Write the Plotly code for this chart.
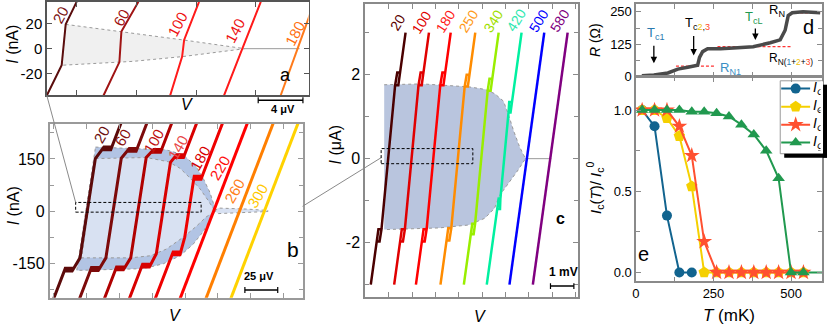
import plotly.graph_objects as go

W, H = 830, 334
FONT = "Liberation Sans"

# ---------------- Panel a : V (uV) vs I (nA)
a_temps = [20, 60, 100, 140, 180]
a_line_colors = ["#5a0d0d", "#a01414", "#ff1a1a", "#ff1a1a", "#ff7a1a"]
a_label_colors = ["#7a1010", "#a01010", "#ee1111", "#ee1111", "#ff7010"]
a_v_bottom = [0.0, 5.07, 11.03, 15.84, 20.91]
a_v_lo = [1.33, 6.49, 12.10, 17.40, 22.42]
a_v_hi = [1.69, 6.67, 12.28, 17.50, 22.42]
a_v_top = [2.67, 8.19, 13.61, 19.13, 23.93]
a_ic_dn = [13.1, 10.6, 6.2, 0.5, 0.0]
a_ic_up = [19.2, 13.5, 6.9, 0.4, 0.0]
a_imax = 37
a_shade_up_v = [1.69, 6.67, 12.19, 17.7]
a_shade_up_i = [19.2, 13.5, 6.9, 0.0]
a_shade_dn_v = [1.33, 7.74, 12.19, 17.7]
a_shade_dn_i = [-13.1, -10.0, -6.2, 0.0]
a_tail_v = [17.7, 22.6]
a_tail_i = [0.0, 0.0]

# ---------------- Panel b : V (uV) vs I (nA)
b_temps = [20, 60, 100, 140, 180, 220, 260, 300]
b_line_colors = ["#5c0a0a", "#7d0a0a", "#b00000", "#d80000", "#ee0000", "#ff0000", "#ff7f00", "#ffd200"]
b_label_colors = ["#6b0f0f", "#8b1010", "#c01010", "#e84848", "#d80000", "#ff1010", "#ff8020", "#ffc800"]
b_vc = [28.5, 48.2, 67.1, 86.1, 105.8, 124.7, 144.4, 163.3]
b_io_up = [184, 180, 177, 162, 100, 0, 0, 0]
b_ii_up = [151, 152, 154, 140, 85, 0, 0, 0]
b_io_dn = [172, 170, 168, 160, 125, 0, 0, 0]
b_ii_dn = [134, 134, 134, 122, 75, 0, 0, 0]
b_R, b_Rs, b_imax = 0.1017, 0.041, 260
b_outer_up_v = [34.8, 88.6, 101.5, 111.4, 116.7, 122.0, 125.0, 125.8]
b_outer_up_i = [184, 176, 162, 128, 95, 53, 17, 0]
b_outer_dn_v = [20.5, 71.2, 86.4, 99.2, 109.1, 116.7, 122.0, 125.8]
b_outer_dn_i = [-170, -165, -151, -128, -95, -59, -25, 0]
b_inner_up_v = [34.8, 73.5, 90.2, 99.2, 106.8, 114.4, 120.5, 125.8]
b_inner_up_i = [151, 154, 142, 123, 95, 64, 31, 0]
b_inner_dn_v = [24.2, 61.4, 76.5, 88.6, 101.5, 111.4, 118.9, 125.8]
b_inner_dn_i = [-134, -134, -128, -109, -75, -44, -17, 0]
b_tail_up_v = [125.8, 128, 150, 166]
b_tail_up_i = [0, 9, 6, 2]
b_tail_dn_v = [166, 150, 128, 125.8]
b_tail_dn_i = [-1, -4, -7, 0]

# ---------------- Panel c : V (mV) vs I (uA)
c_temps = [20, 100, 180, 250, 340, 420, 500, 580]
c_line_colors = ["#4a0000", "#e00000", "#ff0000", "#ff8c00", "#99ee00", "#00f0a0", "#0000ff", "#800080"]
c_label_colors = ["#5a0000", "#e00000", "#ff1a1a", "#ff9a1a", "#a0e000", "#30e8b0", "#0000ff", "#800080"]
c_vc = [0.98, 1.98, 2.91, 3.96, 4.96, 5.94, 6.91, 7.91]
c_io_up = [2.05, 2.05, 2.05, 2.0, 1.9, 1.35, 0, 0]
c_ii_up = [1.75, 1.75, 1.75, 1.72, 1.62, 1.1, 0, 0]
c_io_dn = [1.97, 1.97, 1.97, 1.95, 1.8, 1.2, 0, 0]
c_ii_dn = [1.68, 1.68, 1.68, 1.66, 1.55, 0.95, 0, 0]
c_R, c_Rs, c_imax = 0.248, 0.17, 3.0
c_up_v = [0.81, 2.43, 4.43, 5.11, 5.53, 5.91, 6.13, 6.34, 6.60, 6.85]
c_up_i = [1.76, 1.78, 1.71, 1.65, 1.55, 1.37, 1.04, 0.67, 0.28, 0.0]
c_dn_v = [0.81, 3.15, 4.43, 5.11, 5.53, 5.74, 6.13, 6.55, 6.85]
c_dn_i = [-1.69, -1.65, -1.58, -1.42, -1.18, -0.88, -0.58, -0.26, 0.0]
c_tail_v = [6.85, 7.96]
c_tail_i = [0.0, 0.0]

# ---------------- Panel d : R (Ohm) vs T (mK)
d_T = [19, 58, 103, 135, 167, 199, 205, 215, 231, 273, 327, 378, 433, 465, 481, 491, 504, 539, 594]
d_R = [4, 7, 15, 30, 37, 45, 75, 97, 108, 108, 112, 116, 131, 142, 179, 235, 246, 250, 246]
d_rn1_T, d_rn1_R = [129, 257], [41, 41]
d_rn123_T, d_rn123_R = [263, 504], [116, 116]
d_rn_T, d_rn_R = [497, 594], [246, 246]

# ---------------- Panel e : Ic(T)/Ic0 vs T (mK)
e_T1 = [20, 60, 100, 140, 180]
e_I1 = [1.0, 0.9, 0.35, 0.0, 0.0]
e_T = [20, 60, 100, 140, 180, 220, 260, 300, 340, 380, 420, 460, 500, 540]
e_I2 = [1.0, 1.0, 0.95, 0.84, 0.53, 0.0, 0, 0, 0, 0, 0, 0, 0, 0]
e_I3 = [1.0, 1.0, 1.0, 0.9, 0.72, 0.19, 0, 0, 0, 0, 0, 0, 0, 0]
e_IL = [1.0, 1.0, 1.0, 1.0, 0.99, 0.99, 0.98, 0.96, 0.91, 0.85, 0.75, 0.58, 0.0, 0.0]
e_TL_tail = [540, 600]
e_IL_tail = [0.0, 0.0]
e_names = ["C1", "C2", "C3", "CL"]
e_colors = ["#12648f", "#f5d000", "#ff5030", "#21994f"]
e_symbols = ["circle", "pentagon", "star", "triangle-up"]


def iv_path(vc, R, Rs, imax, io_up, ii_up, io_dn, ii_dn, lw, lh):
    xn = lambda i: vc + R * i
    xs = lambda i: vc + Rs * i
    if io_up <= 0:
        return [xn(-imax), xn(imax)], [-imax, imax]
    pts = [(xn(-imax), -imax)]
    h = min(lh, io_dn - ii_dn)
    B = (xn(-io_dn), -io_dn)
    A = (xn(-io_dn) + lw, -io_dn)
    K = (xs(-ii_dn), -ii_dn)
    t = h / (io_dn - ii_dn)
    D = (A[0] + t * (K[0] - A[0]), -(io_dn - h))
    C = (xn(-(io_dn - h)), -(io_dn - h))
    pts += [B, A, D, C, B, A, D, K]
    h = min(lh, io_up - ii_up)
    K = (xs(ii_up), ii_up)
    A = (xn(io_up) - lw, io_up)
    B = (xn(io_up), io_up)
    t = h / (io_up - ii_up)
    D = (K[0] + (1 - t) * (A[0] - K[0]), io_up - h)
    C = (xn(io_up - h), io_up - h)
    pts += [K, D, A, B, C, D, A, B, (xn(imax), imax)]
    return [p[0] for p in pts], [p[1] for p in pts]


fig = go.Figure()
BND = dict(color="#9a9a9a", width=1, dash="dot")


def add(x, y, xa, ya, **kw):
    fig.add_trace(go.Scatter(x=x, y=y, xaxis=xa, yaxis=ya, showlegend=False,
                             hoverinfo="skip", **kw))


# ---- panel a
add(a_shade_up_v + a_shade_dn_v[::-1] + [a_shade_up_v[0]],
    a_shade_up_i + a_shade_dn_i[::-1] + [a_shade_up_i[0]], "x", "y",
    mode="lines", fill="toself", fillcolor="#f0f0f0", line=BND)
add(a_tail_v, a_tail_i, "x", "y", mode="lines", line=dict(color="#9a9a9a", width=1))
for k in range(len(a_temps)):
    add([a_v_bottom[k], a_v_lo[k], a_v_hi[k], a_v_top[k]],
        [-a_imax, -a_ic_dn[k], a_ic_up[k], a_imax], "x", "y",
        mode="lines", line=dict(color=a_line_colors[k], width=2))

# ---- panel b
add(b_outer_up_v + b_outer_dn_v[::-1] + [b_outer_up_v[0]],
    b_outer_up_i + b_outer_dn_i[::-1] + [b_outer_up_i[0]], "x2", "y2",
    mode="lines", fill="toself", fillcolor="#b2c4e4", line=BND)
add(b_inner_up_v + b_inner_dn_v[::-1] + [b_inner_up_v[0]],
    b_inner_up_i + b_inner_dn_i[::-1] + [b_inner_up_i[0]], "x2", "y2",
    mode="lines", fill="toself", fillcolor="#d8e1f2", line=BND)
add(b_tail_up_v + b_tail_dn_v, b_tail_up_i + b_tail_dn_i, "x2", "y2",
    mode="lines", fill="toself", fillcolor="#d8e1f2", line=BND)
for k in range(len(b_temps)):
    v, i = iv_path(b_vc[k], b_R, b_Rs, b_imax, b_io_up[k], b_ii_up[k],
                   b_io_dn[k], b_ii_dn[k], 6.0, 8.0)
    add(v, i, "x2", "y2", mode="lines", line=dict(color=b_line_colors[k], width=3))

# ---- panel c
add(c_up_v + c_dn_v[::-1], c_up_i + c_dn_i[::-1], "x3", "y3",
    mode="lines", fill="toself", fillcolor="#b9c5de", line=BND)
add(c_tail_v, c_tail_i, "x3", "y3", mode="lines", line=dict(color="#9a9a9a", width=1))
for k in range(len(c_temps)):
    v, i = iv_path(c_vc[k], c_R, c_Rs, c_imax, c_io_up[k], c_ii_up[k],
                   c_io_dn[k], c_ii_dn[k], 0.12, 0.3)
    add(v, i, "x3", "y3", mode="lines", line=dict(color=c_line_colors[k], width=2.5))

# ---- panel d
for tt, rr in [(d_rn1_T, d_rn1_R), (d_rn123_T, d_rn123_R), (d_rn_T, d_rn_R)]:
    add(tt, rr, "x4", "y4", mode="lines", line=dict(color="#ff3333", width=1.3, dash="3px,2px"))
add(d_T, d_R, "x4", "y4", mode="lines", line=dict(color="#4a4a4a", width=3.5))

# ---- panel e
e_series = [(e_T1, e_I1), (e_T, e_I2), (e_T, e_I3), (e_T, e_IL)]
e_sizes = [10, 12, 12, 11]
add(e_TL_tail, e_IL_tail, "x5", "y5", mode="lines", line=dict(color=e_colors[3], width=2))
for k, (tt, ii) in enumerate(e_series):
    add(tt, ii, "x5", "y5", mode="lines+markers",
        line=dict(color=e_colors[k], width=2),
        marker=dict(symbol=e_symbols[k], size=e_sizes[k], color=e_colors[k]))

# ---- legend of panel e, drawn inside the e axes (legend box geometry in axis units)
LEG_T0, LEG_T1, LEG_TM, LEG_TX = 468.4, 561.5, 515.0, 571.0
LEG_BOX_T = [465.2, 610, 610, 465.2, 465.2]
LEG_BOX_I = [1.180, 1.180, 0.731, 0.731, 1.180]
LEG_ROWS = [1.132, 1.021, 0.910, 0.800]
add(LEG_BOX_T, LEG_BOX_I, "x5", "y5", mode="lines", fill="toself", fillcolor="white",
    line=dict(width=1, color="#999999"))
for k in range(4):
    add([LEG_T0, LEG_T1], [LEG_ROWS[k]] * 2, "x5", "y5", mode="lines",
        line=dict(color=e_colors[k], width=2))
    add([LEG_TM], [LEG_ROWS[k]], "x5", "y5", mode="markers",
        marker=dict(symbol=e_symbols[k], size=e_sizes[k], color=e_colors[k]))
    add([LEG_TX], [LEG_ROWS[k]], "x5", "y5", mode="text",
        text=["<i>I<sub>%s</sub></i>" % e_names[k]], textposition="middle right",
        textfont=dict(size=14, color="black", family=FONT))


def dom_x(x0, x1):
    return [x0 / W, x1 / W]


def dom_y(y_top, y_bot):
    return [1 - y_bot / H, 1 - y_top / H]


def axis(domain, rng, anchor, color="#8a8a8a", width=1.5, minor_vals=None, **kw):
    d = dict(domain=domain, range=rng, anchor=anchor, showgrid=False, zeroline=False,
             showline=True, mirror="ticks", linecolor=color, linewidth=width,
             ticks="inside", tickcolor=color, ticklen=5, tickwidth=1, fixedrange=True,
             tickfont=dict(family=FONT, size=16, color="black"))
    if minor_vals is not None:
        d["minor"] = dict(tickmode="array", tickvals=minor_vals, ticks="inside",
                          ticklen=4, tickcolor=color, showgrid=False)
    d.update(kw)
    return d


def tv(vals, labels):
    return dict(tickmode="array", tickvals=vals, ticktext=labels)


layout = dict(
    width=W, height=H, margin=dict(l=0, r=0, t=0, b=0),
    paper_bgcolor="white", plot_bgcolor="white", showlegend=False,
    font=dict(family=FONT, color="black"),
    xaxis=axis(dom_x(43, 306), [0, 23.4], "y", color="#555555", tick0=2.67, dtick=5.34,
               showticklabels=False),
    yaxis=axis(dom_y(1, 97), [-36.9, 36.9], "x", color="#555555",
               tickfont=dict(family=FONT, size=15, color="black"),
               **tv([-20, 0, 20], ["-20", "0", "20"])),
    xaxis2=axis(dom_x(46, 300), [0, 192.4], "y2", color="#9a9a9a", width=2, tick0=28, dtick=25,
                showticklabels=False),
    yaxis2=axis(dom_y(126, 305), [-248.6, 251.4], "x2", color="#9a9a9a", width=2,
                minor_vals=[-225, -75, 75, 225],
                **tv([-150, 0, 150], ["-150", "0", "150"])),
    xaxis3=axis(dom_x(363, 577), [0, 9.106], "y3", color="#8a8a8a", width=2, tick0=1.0, dtick=1.0,
                showticklabels=False),
    yaxis3=axis(dom_y(3, 304), [-3.29, 3.685], "x3", color="#8a8a8a", width=2,
                minor_vals=[-3, -1, 1, 3],
                **tv([-2, 0, 2], ["-2", "0", "2"])),
    xaxis4=axis(dom_x(635, 822), [0, 600], "y4", showticklabels=False,
                tickmode="array", tickvals=[125, 250, 375, 500]),
    yaxis4=axis(dom_y(3, 78), [0, 280], "x4", tickfont=dict(family=FONT, size=13, color="black"),
                minor_vals=[62.5, 187.5],
                **tv([0, 125, 250], ["0", "125", "250"])),
    xaxis5=axis(dom_x(635, 822), [0, 600], "y5", tickfont=dict(family=FONT, size=13, color="black"),
                minor_vals=[125, 375],
                **tv([0, 250, 500], ["0", "250", "500"])),
    yaxis5=axis(dom_y(78, 288), [-0.054, 1.204], "x5", tickfont=dict(family=FONT, size=13, color="black"),
                minor_vals=[0.25, 0.75],
                **tv([0, 0.5, 1.0], ["0.0", "0.5", "1.0"])),
)


def ann(text, x, y, size, color="black", angle=0, **kw):
    d = dict(xref="paper", yref="paper", x=x / W, y=1 - y / H, text=text, showarrow=False,
             font=dict(family=FONT, size=size, color=color), textangle=angle,
             xanchor="center", yanchor="middle")
    d.update(kw)
    return d


anns = []
a_lab_pos = [(57, 14), (118, 17), (174, 24), (232, 30), (292, 33)]
for k, (x, y) in enumerate(a_lab_pos):
    anns.append(ann(str(a_temps[k]), x, y, 15, a_label_colors[k], -62))
b_lab_pos = [(98, 137), (119, 140), (150, 144), (175, 151), (197, 162), (217, 171), (232, 195), (255, 200)]
for k, (x, y) in enumerate(b_lab_pos):
    anns.append(ann(str(b_temps[k]), x, y, 15, b_label_colors[k], -60))
c_lab_pos = [(396, 22), (420, 22), (444, 21), (467, 21), (492, 21), (515, 20), (538, 20), (559, 20)]
for k, (x, y) in enumerate(c_lab_pos):
    anns.append(ann(str(c_temps[k]), x, y, 14, c_label_colors[k], -58))

anns += [ann("a", 283, 76, 18), ann("b", 290, 255, 21), ann("<b>c</b>", 559, 224, 16),
         ann("d", 808, 27, 20), ann("e", 643, 260, 20)]
anns += [ann("<i>I</i> (nA)", 9, 44, 16, angle=-90), ann("<i>V</i>", 184, 106, 16),
         ann("<i>I</i> (nA)", 9, 210, 16, angle=-90), ann("<i>V</i>", 172, 323, 16),
         ann("<i>I</i> (μA)", 333, 148, 16, angle=-90), ann("<i>V</i>", 478, 324, 16),
         ann("<i>R</i> (Ω)", 594, 40, 14, angle=-90),
         ann("<i>I</i><sub>c</sub>(<i>T</i>)/ <i>I</i><sub>c</sub><sup>0</sup>", 594, 192, 15, angle=-90),
         ann("<i>T</i> (mK)", 729, 323, 17)]
anns += [ann("<b>4 μV</b>", 280, 111, 11), ann("<b>25 μV</b>", 256, 283, 11),
         ann("<b>1 mV</b>", 562, 279, 12)]
BLUE_T, YEL_T, RED_T, GRN_T = "#2a7ab0", "#f0c000", "#ff4422", "#21994f"
anns += [
    ann("T<sub>c1</sub>", 655, 33, 13, BLUE_T),
    ann("T<sub>c<span style='color:%s'>2</span>,<span style='color:%s'>3</span></sub>" % (YEL_T, RED_T), 697, 23, 13),
    ann("T<sub>cL</sub>", 754, 17, 13, GRN_T),
    ann("R<sub>N</sub>", 777, 10, 13),
    ann("R<sub>N1</sub>", 730, 69, 13, "#3a8ec4"),
    ann("R<sub>N(<span style='color:%s'>1</span>+<span style='color:%s'>2</span>+<span style='color:%s'>3</span>)</sub>"
        % (BLUE_T, YEL_T, RED_T), 791, 60, 12),
]
for (x, yh, yt) in [(653, 64, 45), (693, 56, 35), (755, 40, 27)]:
    anns.append(dict(xref="paper", yref="paper", x=x / W, y=1 - yh / H, text="", showarrow=True,
                     ax=0, ay=yt - yh, arrowhead=2, arrowsize=1, arrowwidth=1.3, arrowcolor="black"))

GREY = dict(color="#8a8a8a", width=1)
shapes = [
    dict(type="line", xref="paper", yref="paper", x0=43 / W, y0=1 - 97 / H, x1=72 / W, y1=1 - 207 / H,
         line=GREY, layer="above"),
    dict(type="line", xref="paper", yref="paper", x0=300 / W, y0=1 - 211 / H, x1=379 / W, y1=1 - 161 / H,
         line=GREY, layer="above"),
    dict(type="rect", xref="x2", yref="y2", x0=19.7, x1=115.2, y0=-2.8, y1=25.1,
         line=dict(color="black", width=1, dash="3px,2px"), layer="above"),
    dict(type="rect", xref="x3", yref="y3", x0=0.68, x1=4.6, y0=-0.12, y1=0.24,
         line=dict(color="black", width=1, dash="3px,2px"), layer="above"),
    dict(type="rect", xref="paper", yref="paper", x0=820.5 / W, x1=823 / W, y0=1 - 156.5 / H,
         y1=1 - 82.5 / H, fillcolor="white", line=dict(width=0), layer="above"),
    dict(type="rect", xref="paper", yref="paper", x0=823 / W, x1=827 / W, y0=1 - 161 / H,
         y1=1 - 86 / H, fillcolor="black", line=dict(width=0), layer="above"),
    dict(type="rect", xref="paper", yref="paper", x0=784 / W, x1=827 / W, y0=1 - 161 / H,
         y1=1 - 157 / H, fillcolor="black", line=dict(width=0), layer="above"),
]
for xr, x0, x1, yp in [("x", 18.9, 22.9, 102), ("x2", 148.5, 173.5, 297), ("x3", 7.92, 8.92, 293)]:
    shapes.append(dict(type="line", xref=xr, yref="paper", x0=x0, x1=x1, y0=1 - yp / H, y1=1 - yp / H,
                       line=dict(color="black", width=1.5), layer="above"))
    for xx in (x0, x1):
        shapes.append(dict(type="line", xref=xr, yref="paper", x0=xx, x1=xx, y0=1 - (yp - 3) / H,
                           y1=1 - (yp + 3) / H, line=dict(color="black", width=1.2), layer="above"))

layout["annotations"] = anns
layout["shapes"] = shapes
fig.update_layout(**layout)
# remove the browser's default 8px page margin so the figure sits at the window's corner
fig.write_html("out.html", config={"displayModeBar": False, "staticPlot": True},
               post_script="document.body.style.margin='0px';document.body.style.overflow='hidden';")
